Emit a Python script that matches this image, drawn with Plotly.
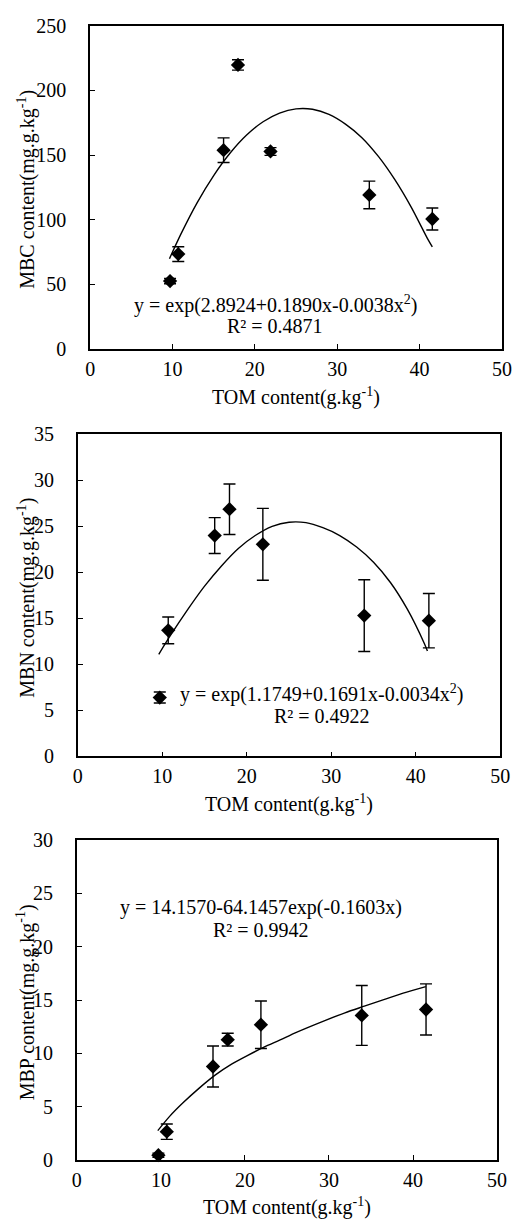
import plotly.graph_objects as go

# ---------------- data ----------------
tom = [9.7, 10.7, 16.2, 17.95, 21.9, 33.9, 41.55]

mbc = [52.6, 73.5, 153.8, 219.7, 152.8, 119.2, 100.6]
mbc_err = [2.0, 5.7, 9.5, 4.0, 3.0, 10.7, 8.5]

mbn = [6.4, 13.7, 24.0, 26.86, 23.05, 15.3, 14.75]
mbn_err = [0.6, 1.45, 1.95, 2.74, 3.9, 3.9, 2.95]

mbp = [0.43, 2.64, 8.76, 11.28, 12.68, 13.55, 14.11]
mbp_err = [0.2, 0.72, 1.92, 0.6, 2.23, 2.81, 2.4]

# trend curves
mbc_fit_x = [9.63, 11, 13, 15, 17, 19, 21, 23, 25, 27, 29, 31, 33, 35, 37, 39, 41, 41.55]
mbc_fit_y = [69.9, 88.7, 113.3, 134.2, 151.6, 165.5, 175.8, 182.5, 185.7, 185.4, 181.5, 174.0, 163.5, 149.0, 131.0, 109.6, 85.0, 79.0]

mbn_fit_x = [9.58, 11, 13, 15, 17, 19, 21, 23, 25, 27, 29, 31, 33, 35, 37, 39, 41, 41.38]
mbn_fit_y = [11.1, 13.2, 15.95, 18.5, 20.7, 22.6, 24.0, 25.0, 25.45, 25.4, 24.85, 24.0, 22.75, 21.1, 18.9, 16.0, 12.3, 11.45]

mbp_fit_x = [9.63, 11.09, 12.63, 14.56, 16.49, 18.41, 20.34, 22.27, 24.19, 26.12, 29.58, 31.9, 34.21, 36.52, 38.83, 41.52]
mbp_fit_y = [2.74, 4.12, 5.35, 6.73, 7.97, 8.98, 9.81, 10.57, 11.25, 11.96, 13.09, 13.8, 14.42, 15.03, 15.64, 16.26]

eq_text = [
    ("y = exp(2.8924+0.1890x-0.0038x<sup>2</sup>)", "R² = 0.4871"),
    ("y = exp(1.1749+0.1691x-0.0034x<sup>2</sup>)", "R² = 0.4922"),
    ("y = 14.1570-64.1457exp(-0.1603x)", "R² = 0.9942"),
]
y_titles = ["MBC content(mg.g.kg<sup>-1</sup>)", "MBN content(mg.g.kg<sup>-1</sup>)", "MBP content(mg.g.kg<sup>-1</sup>)"]
x_title = "TOM content(g.kg<sup>-1</sup>)"
y_ranges = [[0, 250], [0, 35], [0, 30]]
y_dticks = [50, 5, 5]

# ---------------- layout geometry (pixels) ----------------
W, H = 519, 1231
FONT = "Liberation Serif"
panels = [
    dict(x0=87.7, x1=511.7, y0=15, y1=344.3),
    dict(x0=75, x1=510, y0=431, y1=759),
    dict(x0=74, x1=506.7, y0=844.3, y1=1169.7),
]
eq_pos = [
    (279, 299, 277.7, 321),
    (326, 695, 326, 718.3),
    (263.3, 913, 263.3, 936),
]

fig = go.Figure()
series = [(mbc, mbc_err, mbc_fit_x, mbc_fit_y), (mbn, mbn_err, mbn_fit_x, mbn_fit_y), (mbp, mbp_err, mbp_fit_x, mbp_fit_y)]

annotations = []
for i, (vals, errs, fx, fy) in enumerate(series):
    xa = "x" if i == 0 else f"x{i+1}"
    ya = "y" if i == 0 else f"y{i+1}"
    fig.add_trace(go.Scatter(
        x=fx, y=fy, xaxis=xa, yaxis=ya, mode="lines",
        line=dict(color="black", width=1.4, shape="spline", smoothing=0.8),
        showlegend=False, hoverinfo="skip"))
    fig.add_trace(go.Scatter(
        x=tom, y=vals, xaxis=xa, yaxis=ya, mode="markers",
        marker=dict(symbol="diamond", size=11, color="black"),
        error_y=dict(type="data", array=errs, visible=True, color="black", thickness=1.4, width=6),
        showlegend=False, cliponaxis=False))

    p = panels[i]
    xd = [p["x0"] / W, p["x1"] / W]
    yd = [1 - p["y1"] / H, 1 - p["y0"] / H]
    axis_common = dict(showgrid=False, zeroline=False, showline=True, linecolor="black", linewidth=1.8,
                       mirror=True, ticks="inside", ticklen=5, tickwidth=1.4, tickcolor="black",
                       tickfont=dict(family=FONT, size=20, color="black"))
    xkey = "xaxis" if i == 0 else f"xaxis{i+1}"
    ykey = "yaxis" if i == 0 else f"yaxis{i+1}"
    fig.update_layout({
        xkey: dict(domain=xd, anchor=ya, range=[0, 50], dtick=10, tick0=0, ticklabelstandoff=1, **axis_common),
        ykey: dict(domain=yd, anchor=xa, range=y_ranges[i], dtick=y_dticks[i], tick0=0, ticklabelstandoff=18, **axis_common),
    })

    # axis titles
    annotations.append(dict(text=x_title, xref="paper", yref="paper",
                            x=((p["x0"] + p["x1"]) / 2) / W, y=1 - (p["y1"] + 48) / H,
                            showarrow=False, xanchor="center", yanchor="middle",
                            font=dict(family=FONT, size=20, color="black")))
    annotations.append(dict(text=y_titles[i], xref="paper", yref="paper",
                            x=22 / W, y=1 - ((p["y0"] + p["y1"]) / 2 + 2) / H, textangle=-90,
                            showarrow=False, xanchor="center", yanchor="middle",
                            font=dict(family=FONT, size=20, color="black")))
    # equations
    ex1, ey1, ex2, ey2 = eq_pos[i]
    l1, l2 = eq_text[i]
    annotations.append(dict(text=l1, xref="paper", yref="paper", x=ex1 / W, y=1 - ey1 / H,
                            showarrow=False, xanchor="center", yanchor="middle",
                            font=dict(family=FONT, size=20, color="black")))
    annotations.append(dict(text=l2, xref="paper", yref="paper", x=ex2 / W, y=1 - ey2 / H,
                            showarrow=False, xanchor="center", yanchor="middle",
                            font=dict(family=FONT, size=20, color="black")))

fig.update_layout(
    width=W, height=H, margin=dict(l=0, r=0, t=0, b=0),
    paper_bgcolor="white", plot_bgcolor="white",
    annotations=annotations, showlegend=False,
    font=dict(family=FONT, size=20, color="black"),
)

fig.write_html("out.html", config={"displayModeBar": False})
